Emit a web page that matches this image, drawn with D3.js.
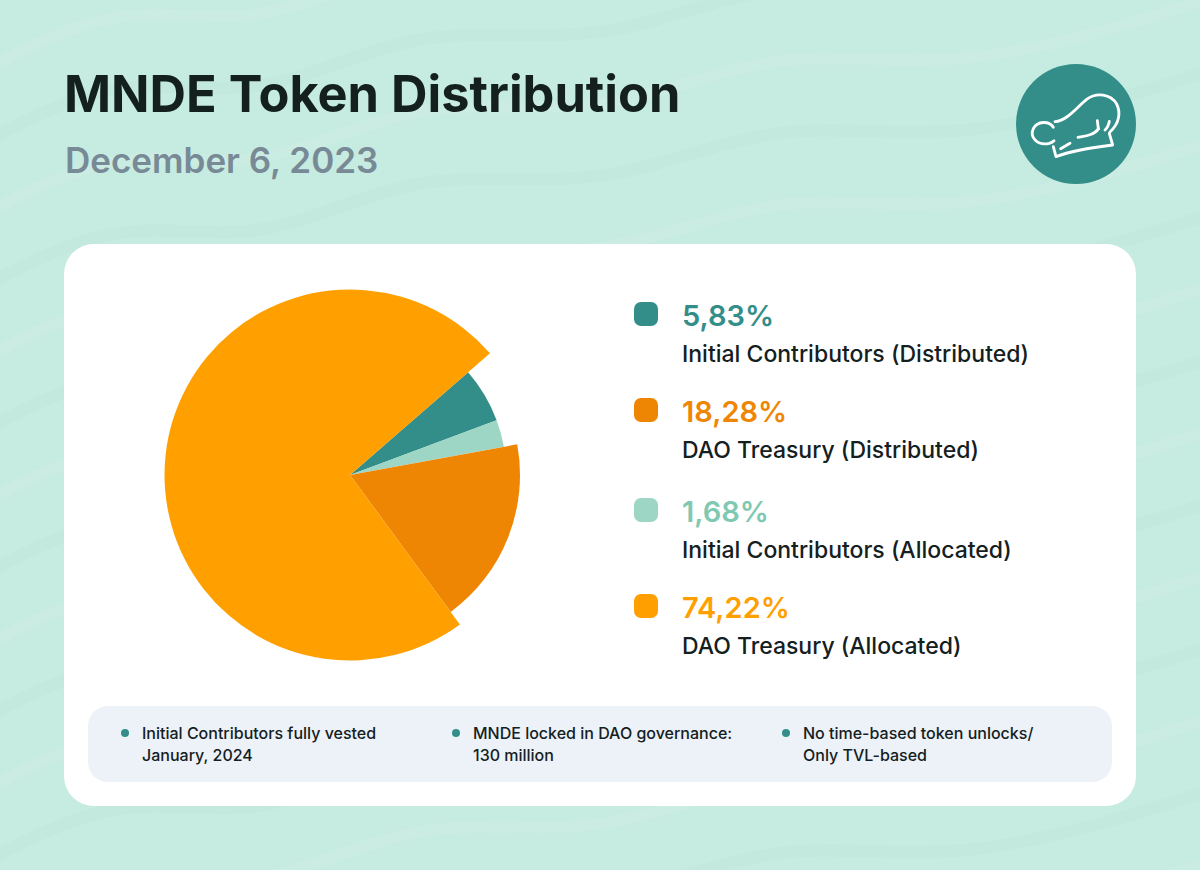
<!DOCTYPE html>
<html>
<head>
<meta charset="utf-8">
<script src="https://cdn.jsdelivr.net/npm/d3@7"></script>
<style>
  html, body { margin: 0; padding: 0; background: #c6ebe0; }
  svg { display: block; }
  text { font-family: Inter, "Noto Sans", sans-serif; font-variant-ligatures: none; }
</style>
</head>
<body>
<svg id="chart" width="1200" height="870"></svg>
<script>
// Data
var titleText = 'MNDE Token Distribution'
var dateText = 'December 6, 2023'

var sliceNames = ['Initial Contributors (Distributed)', 'Initial Contributors (Allocated)', 'DAO Treasury (Distributed)', 'DAO Treasury (Allocated)']
var sliceShares = [5.7, 2.8, 17.8, 73.7]

// legend order, as printed
var legendNames = ['Initial Contributors (Distributed)', 'DAO Treasury (Distributed)', 'Initial Contributors (Allocated)', 'DAO Treasury (Allocated)']
var legendLabels = ['5,83%', '18,28%', '1,68%', '74,22%']

var noteLines = [
  ['Initial Contributors fully vested', 'January, 2024'],
  ['MNDE locked in DAO governance:', '130 million'],
  ['No time-based token unlocks/', 'Only TVL-based']
]

// Styles, keyed by name
var color = d3.scaleOrdinal()
  .domain(legendNames)
  .range(['#338e8a', '#ee8604', '#9dd6c5', '#ffa000'])
var labelColor = d3.scaleOrdinal()
  .domain(legendNames)
  .range(['#338e8a', '#ee8604', '#7fc9b3', '#ffa000'])
var radius = d3.scaleOrdinal()
  .domain(legendNames)
  .range([156.5, 170, 156.5, 185.5])

var svg = d3.select('#chart')

// Background waves
var waveLine = d3.line().curve(d3.curveBasis)
var waves = svg.append('g').attr('fill', 'none')
d3.range(-3, 17).forEach(function (i) {
  var y0 = i * 72
  waves.append('path')
    .attr('d', waveLine([
      [-30, y0 + 150], [120, y0 + 70], [260, y0 + 105], [420, y0 + 20],
      [600, y0 + 50], [780, y0 - 30], [960, y0 + 5], [1230, y0 - 80]
    ]))
    .attr('stroke', i % 2 ? '#cdeee4' : '#c0e7db')
    .attr('stroke-width', 12)
    .attr('opacity', 0.5)
})

// Header
svg.append('text')
  .attr('x', 64)
  .attr('y', 112)
  .attr('font-size', 50.5)
  .attr('font-weight', 700)
  .attr('fill', '#14201e')
  .text(titleText)

svg.append('text')
  .attr('x', 65)
  .attr('y', 173)
  .attr('font-size', 35)
  .attr('font-weight', 600)
  .attr('fill', '#778a96')
  .text(dateText)

// Chef hat badge
var badge = svg.append('g').attr('transform', 'translate(1076,124)')
badge.append('circle').attr('r', 60).attr('fill', '#338e8a')
var hat = badge.append('g')
  .attr('transform', 'translate(-86,-74) scale(0.3333)')
  .attr('fill', 'none')
  .attr('stroke', '#fff')
  .attr('stroke-width', 8.5)
  .attr('stroke-linecap', 'round')
  .attr('stroke-linejoin', 'round')
var hatPaths = [
  'M190,232 C178,212 142,212 130,236 C118,262 142,288 178,280 C184,278 188,276 192,272',
  'M195,215 C232,212 262,170 290,148 C320,126 362,132 380,162 C394,190 386,222 360,246',
  'M190,290 L198,320 C250,300 310,292 368,285 L358,250',
  'M212,296 L240,280',
  'M264,262 C285,258 312,256 326,236',
  'M322,212 L325,236',
  'M358,214 C356,226 352,234 345,240'
]
hat.selectAll('path').data(hatPaths).enter().append('path').attr('d', function (d) { return d })

// Card
svg.append('rect')
  .attr('x', 64)
  .attr('y', 244)
  .attr('width', 1072)
  .attr('height', 562)
  .attr('rx', 30)
  .attr('fill', '#fff')

// Pie
var pie = d3.pie()
  .sort(null)
  .startAngle(49 * Math.PI / 180)
  .endAngle(409 * Math.PI / 180)
  .value(function (d) { return d.share })

var slices = sliceNames.map(function (name, i) {
  return { name: name, share: sliceShares[i] }
})

var arc = d3.arc()
  .innerRadius(0)
  .outerRadius(function (d) { return radius(d.data.name) })

svg.append('g')
  .attr('transform', 'translate(350,475)')
  .selectAll('path')
  .data(pie(slices))
  .enter()
  .append('path')
  .attr('d', arc)
  .attr('fill', function (d) { return color(d.data.name) })

// Legend, rows are not evenly spaced in the original
var legendRowY = [0, 96, 196, 292]
var legend = svg.append('g')
  .attr('transform', 'translate(634,302)')
  .selectAll('g')
  .data(legendNames)
  .enter()
  .append('g')
  .attr('transform', function (d, i) { return 'translate(0,' + legendRowY[i] + ')' })

legend.append('rect')
  .attr('width', 24)
  .attr('height', 24)
  .attr('rx', 7)
  .attr('fill', function (d) { return color(d) })

legend.append('text')
  .attr('x', 48)
  .attr('y', 24)
  .attr('font-size', 29)
  .attr('font-weight', 600)
  .attr('fill', function (d) { return labelColor(d) })
  .text(function (d, i) { return legendLabels[i] })

legend.append('text')
  .attr('x', 48)
  .attr('y', 60)
  .attr('font-size', 23)
  .attr('font-weight', 500)
  .attr('fill', '#14201e')
  .text(function (d) { return d })

// Notes panel
svg.append('rect')
  .attr('x', 88)
  .attr('y', 706)
  .attr('width', 1024)
  .attr('height', 76)
  .attr('rx', 20)
  .attr('fill', '#ecf2f8')

var noteX = [125, 456, 786]
var note = svg.append('g')
  .selectAll('g')
  .data(noteLines)
  .enter()
  .append('g')
  .attr('transform', function (d, i) { return 'translate(' + noteX[i] + ',0)' })

note.append('circle')
  .attr('cy', 733)
  .attr('r', 4)
  .attr('fill', '#338e8a')

note.selectAll('text')
  .data(function (d) { return d })
  .enter()
  .append('text')
  .attr('x', 17)
  .attr('y', function (d, i) { return 739 + i * 22 })
  .attr('font-size', 16)
  .attr('font-weight', 500)
  .attr('fill', '#14201e')
  .text(function (d) { return d })
</script>
</body>
</html>
